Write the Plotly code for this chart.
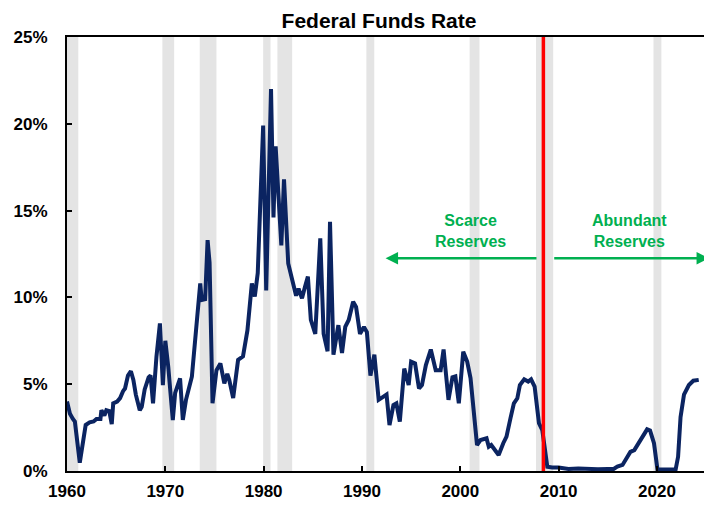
import plotly.graph_objects as go

# Quarter-end federal funds rate (%)
years = [1960.0, 1960.3, 1960.6, 1960.8, 1961.3, 1961.9, 1962.3, 1962.7, 1963.0, 1963.4,
         1963.5, 1963.8, 1964.0, 1964.3, 1964.55, 1964.7, 1965.1, 1965.4, 1965.7, 1965.9,
         1966.2, 1966.5, 1966.75, 1967.0, 1967.4, 1967.6, 1967.9, 1968.3, 1968.5, 1968.75,
         1969.1, 1969.45, 1969.75, 1970.0, 1970.3, 1970.76, 1971.0, 1971.5, 1971.78, 1972.1,
         1972.7, 1973.1, 1973.55, 1973.7, 1974.05, 1974.3, 1974.5, 1974.8, 1975.2, 1975.6,
         1976.0, 1976.3, 1976.5, 1976.9, 1977.4, 1977.9, 1978.35, 1978.8, 1979.1, 1979.4,
         1979.95, 1980.26, 1980.75, 1981.0, 1981.22, 1981.8, 1982.07, 1982.5, 1982.9, 1983.3,
         1983.55, 1983.9, 1984.2, 1984.5, 1984.8, 1985.25, 1985.76, 1986.1, 1986.5, 1986.75,
         1987.1, 1987.6, 1987.97, 1988.3, 1988.65, 1989.1, 1989.4, 1989.8, 1990.2, 1990.5,
         1990.86, 1991.26, 1991.7, 1992.15, 1992.5, 1992.8, 1993.2, 1993.5, 1993.85, 1994.3,
         1994.75, 1995.0, 1995.4, 1995.8, 1996.1, 1996.5, 1997.0, 1997.5, 1998.0, 1998.3,
         1998.8, 1999.2, 1999.5, 1999.85, 2000.3, 2000.7, 2001.04, 2001.7, 2002.06, 2002.67,
         2002.9, 2003.15, 2003.4, 2003.9, 2004.37, 2004.7, 2005.1, 2005.45, 2005.8, 2006.06,
         2006.5, 2006.9, 2007.2, 2007.56, 2008.0, 2008.34, 2008.85, 2009.35, 2010.0, 2011.0,
         2012.0, 2013.0, 2014.0, 2015.0, 2015.6, 2015.97, 2016.5, 2017.0, 2017.3, 2017.7,
         2018.2, 2018.7, 2019.0, 2019.3, 2019.7, 2020.05, 2020.5, 2021.0, 2021.9, 2022.15,
         2022.4, 2022.75, 2023.25, 2023.7, 2024.25]
rate = [4.0, 3.3, 3.0, 2.85, 0.48, 2.65, 2.8, 2.85, 3.0, 3.0,
        3.5, 3.2, 3.5, 3.45, 2.7, 3.9, 4.0, 4.2, 4.6, 4.75,
        5.5, 5.75, 5.25, 4.4, 3.5, 3.7, 4.7, 5.4, 5.5, 3.9,
        6.6, 8.5, 4.95, 7.5, 6.0, 2.94, 4.5, 5.34, 2.94, 4.1,
        5.43, 8.1, 10.8, 9.85, 9.9, 13.3, 12.0, 3.9, 5.8, 6.2,
        5.05, 5.6, 5.25, 4.2, 6.4, 6.6, 8.1, 10.8, 10.05, 11.4,
        19.9, 10.4, 22.0, 14.6, 18.7, 13.0, 16.8, 11.95, 11.1, 10.1,
        10.5, 9.95, 10.6, 11.2, 8.7, 7.9, 13.4, 7.9, 6.9, 14.35,
        6.7, 8.4, 6.8, 8.3, 8.7, 9.75, 9.45, 7.9, 8.3, 8.0,
        5.5, 6.7, 4.1, 4.3, 4.4, 2.65, 3.8, 3.9, 2.85, 5.9,
        4.95, 6.3, 6.2, 4.75, 4.95, 6.1, 7.0, 5.8, 5.8, 7.0,
        4.1, 5.4, 5.45, 3.9, 6.87, 6.3, 5.35, 1.5, 1.78, 1.88,
        1.4, 1.5, 1.3, 0.92, 1.6, 1.98, 3.03, 3.9, 4.19, 4.95,
        5.28, 5.15, 5.28, 4.86, 2.75, 2.36, 0.25, 0.2, 0.2, 0.12,
        0.15, 0.1, 0.1, 0.12, 0.12, 0.25, 0.35, 0.82, 1.1, 1.2,
        1.7, 2.17, 2.4, 2.33, 1.6, 0.1, 0.08, 0.08, 0.08, 0.82,
        3.1, 4.4, 4.95, 5.2, 5.25]

recession_start = [1960.0, 1969.7, 1973.5, 1979.95, 1981.4, 1990.45, 2000.95, 2007.7, 2019.65]
recession_end = [1961.15, 1970.9, 1975.2, 1980.7, 1982.9, 1991.25, 2001.95, 2009.45, 2020.45]

regime_change = 2008.45
y_ticks = [0, 5, 10, 15, 20, 25]
y_tick_labels = ["0%", "5%", "10%", "15%", "20%", "25%"]
x_ticks = [1960, 1970, 1980, 1990, 2000, 2010, 2020]
x_tick_labels = ["1960", "1970", "1980", "1990", "2000", "2010", "2020"]

FONT = "Liberation Sans, Arial, sans-serif"
GREEN = "#00B050"

fig = go.Figure()
fig.add_trace(go.Scatter(x=years, y=rate, mode="lines",
                         line=dict(color="#0B2461", width=4),
                         showlegend=False, hoverinfo="skip"))

shapes = []
for s, e in zip(recession_start, recession_end):
    shapes.append(dict(type="rect", xref="x", yref="paper", x0=s, x1=e, y0=0, y1=1,
                       fillcolor="#E4E4E4", line=dict(width=0), layer="below"))
shapes.append(dict(type="line", xref="x", yref="paper", x0=regime_change, x1=regime_change,
                   y0=0, y1=1, line=dict(color="#FF0000", width=3.5), layer="above"))

annotations = [
    dict(x=2001.0, y=13.8, xref="x", yref="y", text="<b>Scarce<br>Reserves</b>",
         showarrow=False, font=dict(family=FONT, size=16, color=GREEN)),
    dict(x=2017.2, y=13.8, xref="x", yref="y", text="<b>Abundant<br>Reserves</b>",
         showarrow=False, font=dict(family=FONT, size=16, color=GREEN)),
    dict(x=1992.4, y=12.25, ax=2007.9, ay=12.25, xref="x", yref="y", axref="x", ayref="y",
         text="", showarrow=True, arrowhead=2, arrowsize=1, arrowwidth=2.5, arrowcolor=GREEN),
    dict(x=2025.3, y=12.25, ax=2009.4, ay=12.25, xref="x", yref="y", axref="x", ayref="y",
         text="", showarrow=True, arrowhead=2, arrowsize=1, arrowwidth=2.5, arrowcolor=GREEN),
]

# The page body has an 8px margin, so the figure is sized/offset to fill the 712x505 window.
fig.update_layout(
    width=704, height=497,
    margin=dict(l=59, r=0, t=29, b=34, autoexpand=False),
    paper_bgcolor="white", plot_bgcolor="white",
    title=dict(text="<b>Federal Funds Rate</b>", x=0.527, xanchor="center", y=0.975,
               yanchor="middle", font=dict(family=FONT, size=21, color="black")),
    shapes=shapes, annotations=annotations,
    font=dict(family=FONT, color="black"),
)
fig.update_xaxes(range=[1960, 2025.6], tickmode="array", tickvals=x_ticks,
                 ticktext=["<b>%s</b>" % t for t in x_tick_labels], automargin=False,
                 showgrid=False, zeroline=False, showline=True, linecolor="black", linewidth=2,
                 mirror=True, ticks="inside", ticklen=5, tickwidth=2, tickcolor="black",
                 ticklabelstandoff=4,
                 tickfont=dict(family=FONT, size=17, color="black"))
fig.update_yaxes(range=[0, 25], tickmode="array", tickvals=y_ticks,
                 ticktext=["<b>%s</b>" % t for t in y_tick_labels], automargin=False,
                 showgrid=False, zeroline=False, showline=True, linecolor="black", linewidth=2,
                 ticks="inside", ticklen=5, tickwidth=2, tickcolor="black",
                 ticklabelstandoff=14,
                 tickfont=dict(family=FONT, size=17, color="black"))

fig.write_html("out.html")
